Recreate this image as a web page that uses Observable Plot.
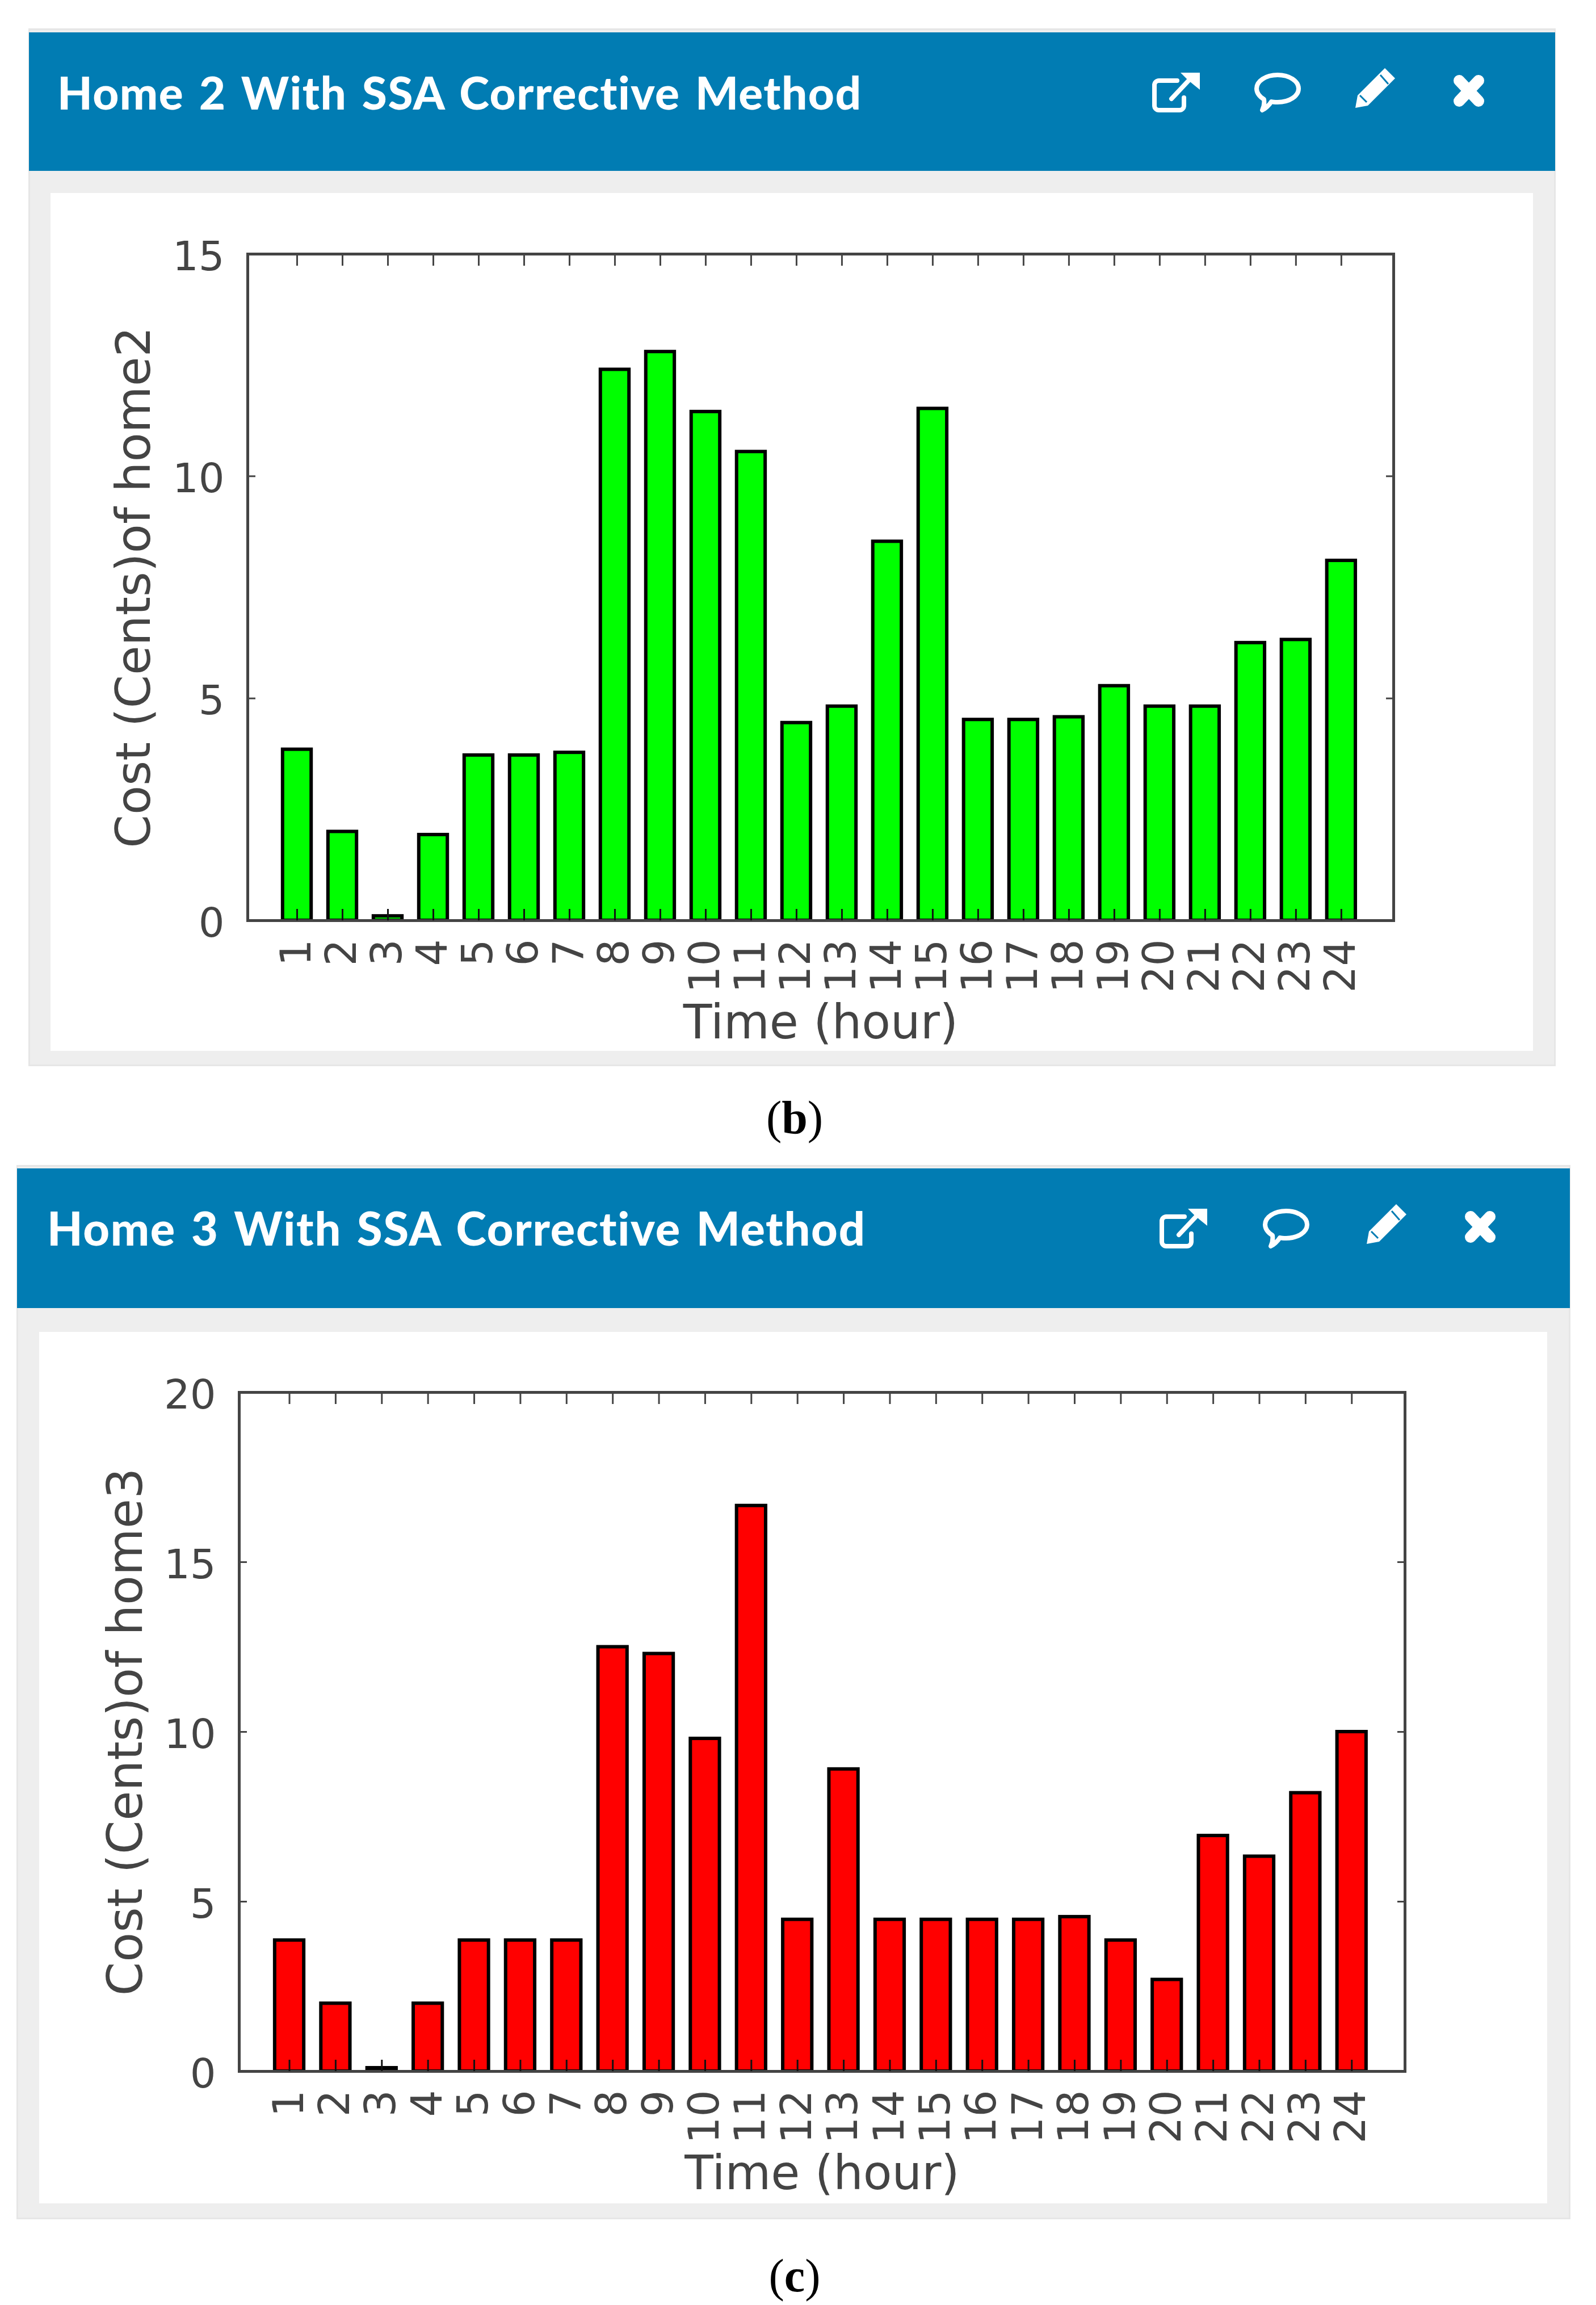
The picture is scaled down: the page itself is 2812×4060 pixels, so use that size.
<!DOCTYPE html>
<html>
<head>
<meta charset="utf-8">
<script src="https://cdn.jsdelivr.net/npm/d3@7"></script>
<script src="https://cdn.jsdelivr.net/npm/@observablehq/plot@0.6"></script>
<style>
  html, body { margin: 0; padding: 0; background: #fff; }
  #page { position: relative; width: 2812px; height: 4060px; overflow: hidden; background: #fff; }
  .abs { position: absolute; }
  .outer { background: #eeeeee; box-shadow: inset 0 0 0 3px #e6e6e6; }
  .bar { background: #017cb3; }
  .inner { background: #fff; }
  .title { color: #fff; font-family: "Lato"; font-weight: 900; font-variant-ligatures: none; white-space: nowrap; transform-origin: 0 0; line-height: 1; }
  .cap { font-family: "Liberation Serif"; font-size: 82px; color: #000; transform: translate(-50%, -50%); white-space: nowrap; line-height: 1; }
  svg.icon { position: absolute; overflow: visible; }
  svg { display: block; }
</style>
</head>
<body>
<div id="page"></div>
<script>
const hours = d3.range(1, 25);
const home2Cost = [3.85, 2.0, 0.1, 1.93, 3.72, 3.72, 3.78, 12.4, 12.8, 11.45, 10.55, 4.45, 4.82, 8.53, 11.52, 4.52, 4.52, 4.58, 5.28, 4.82, 4.82, 6.25, 6.32, 8.1];
const home3Cost = [3.86, 2.0, 0.1, 2.0, 3.86, 3.86, 3.86, 12.5, 12.3, 9.8, 16.66, 4.47, 8.9, 4.47, 4.47, 4.47, 4.47, 4.55, 3.86, 2.7, 6.94, 6.33, 8.2, 10.0];
const home2Ticks = [0, 5, 10, 15];
const home3Ticks = [0, 5, 10, 15, 20];
const xLabel = "Time (hour)";

const page = document.getElementById("page");
function box(cls, l, t, w, h) {
  const d = document.createElement("div");
  d.className = "abs " + cls;
  d.style.cssText = `left:${l}px;top:${t}px;width:${w}px;height:${h}px`;
  page.appendChild(d);
  return d;
}
function icons(ox, oy, dx) {
  const stroke = `fill="none" stroke="#fff" stroke-width="8" stroke-linecap="round" stroke-linejoin="round"`;
  const items = [
    [2030 + dx[0], 128, 84, 68, `<path d="M44 14H12a8 8 0 0 0-8 8v36a8 8 0 0 0 8 8h36a8 8 0 0 0 8-8V44" ${stroke}/><path d="M34 46L66 12" ${stroke}/><path d="M50 0H84V30L74 22L62 12Z" fill="#fff"/>`],
    [2210 + dx[1], 128, 82, 70, `<path d="M41 4C62 4 78 15 78 28S62 52 41 52C37 52 33 52 30 51C26 58 18 64 14 66C17 60 18 54 17 47C9 42 4 36 4 28C4 15 20 4 41 4Z" ${stroke}/>`],
    [2388 + dx[2], 118, 72, 72, `<path d="M52 2L70 20L22 68L0 72L4 50Z" fill="#fff"/><path d="M44 14L58 30" stroke="#017cb3" stroke-width="3"/><path d="M8 50L20 62" stroke="#017cb3" stroke-width="3"/>`],
    [2560 + dx[3], 133, 56, 54, `<path d="M11 9L45 45M45 9L11 45" stroke="#fff" stroke-width="20" stroke-linecap="round"/>`]
  ];
  for (const [x, y, w, h, inner] of items) {
    page.insertAdjacentHTML("beforeend",
      `<svg class="icon" style="left:${x + ox}px;top:${y + oy}px" width="${w}" height="${h}" viewBox="0 0 ${w} ${h}">${inner}</svg>`);
  }
}

function panel(o) {
  box("outer", o.ol, o.ot, o.or - o.ol, o.ob - o.ot);
  box("bar", o.ol + 1, o.bt, o.or - o.ol - 2, o.bb - o.bt);
  box("inner", o.il, o.it, o.ir - o.il, o.ib - o.it);
  const t = box("title", o.tx, o.ty, 1600, 90);
  t.textContent = o.title;
  t.style.fontSize = o.tfs + "px";
  t.style.wordSpacing = "6px";
  t.style.letterSpacing = o.tls + "px";
  icons(0, o.bt - 57, o.idx);

  const rows = hours.map((h, i) => ({hour: h, cost: o.values[i]}));
  const fig = Plot.plot({
    width: o.ir - o.il,
    height: o.ib - o.it,
    marginLeft: o.pl - o.il,
    marginRight: o.ir - o.pr,
    marginTop: o.pt - o.it,
    marginBottom: o.ib - o.pb,
    style: {fontFamily: "DejaVu Sans", color: "#444", background: "transparent", overflow: "visible"},
    x: {type: "band", domain: hours, paddingInner: 0.37, paddingOuter: 0.805, align: 0.48, round: false},
    y: {domain: o.yDomain},
    marks: [
      Plot.barY(rows, {x: "hour", y: "cost", fill: o.fill, stroke: "#000", strokeWidth: 6}),
      Plot.frame({stroke: "#444", strokeWidth: 5}),
      Plot.axisX({anchor: "bottom", tickSize: -20, tickPadding: 53, tickRotate: -90, fontSize: 74, stroke: "#111", strokeWidth: 3, label: null, fill: "#444"}),
      Plot.axisX({anchor: "top", tickSize: -20, fill: "none", strokeWidth: 3, label: null}),
      Plot.axisY({anchor: "left", ticks: o.ticks, tickSize: -14, fill: "none", strokeWidth: 3, label: null}),
      Plot.axisY({anchor: "left", ticks: o.ticks, tickSize: 0, tickPadding: 41, dy: 5, fontSize: 72, label: null, fill: "#444"}),
      Plot.axisY({anchor: "right", ticks: o.ticks, tickSize: -14, fill: "none", strokeWidth: 3, label: null}),
      Plot.axisY({anchor: "left", ticks: [], tickSize: 0, label: o.yLabel, labelAnchor: "center", labelArrow: "none", labelOffset: o.ylo, fontSize: o.ylfs, fill: "#444"}),
      Plot.axisX({anchor: "bottom", ticks: [], tickSize: 0, label: xLabel, labelAnchor: "center", labelArrow: "none", labelOffset: o.xlo, fontSize: 83, fill: "#444"})
    ]
  });
  fig.style.position = "absolute";
  fig.style.left = o.il + "px";
  fig.style.top = o.it + "px";
  page.appendChild(fig);

  const c = box("cap", o.cx, o.cy, 0, 0);
  c.style.width = "auto"; c.style.height = "auto";
  c.innerHTML = `(<b>${o.cap}</b>)`;
}

panel({
  title: "Home 2 With SSA Corrective Method", tfs: 80, tls: 1.5, tx: 101, ty: 122, idx: [0, 0, 0, 0],
  ol: 50, or: 2741, ot: 50, ob: 1878, bt: 57, bb: 301,
  il: 89, ir: 2701, it: 340, ib: 1851,
  pl: 436, pr: 2455, pt: 447, pb: 1621,
  values: home2Cost, yDomain: [0, 15], ticks: home2Ticks, fill: "#00ff00",
  yLabel: "Cost (Cents)of home2", ylfs: 84, ylo: 232, xlo: 207, cap: "b", cx: 1400, cy: 1969
});
panel({
  title: "Home 3 With SSA Corrective Method", tfs: 81, tls: 1.75, tx: 83, ty: 2122, idx: [13, 15, 20, 20],
  ol: 29, or: 2767, ot: 2052, ob: 3909, bt: 2058, bb: 2304,
  il: 69, ir: 2726, it: 2346, ib: 3881,
  pl: 421, pr: 2475, pt: 2452, pb: 3648,
  values: home3Cost, yDomain: [0, 20], ticks: home3Ticks, fill: "#ff0000",
  yLabel: "Cost (Cents)of home3", ylfs: 85, ylo: 232, xlo: 207, cap: "c", cx: 1400, cy: 4009
});
</script>
</body>
</html>
